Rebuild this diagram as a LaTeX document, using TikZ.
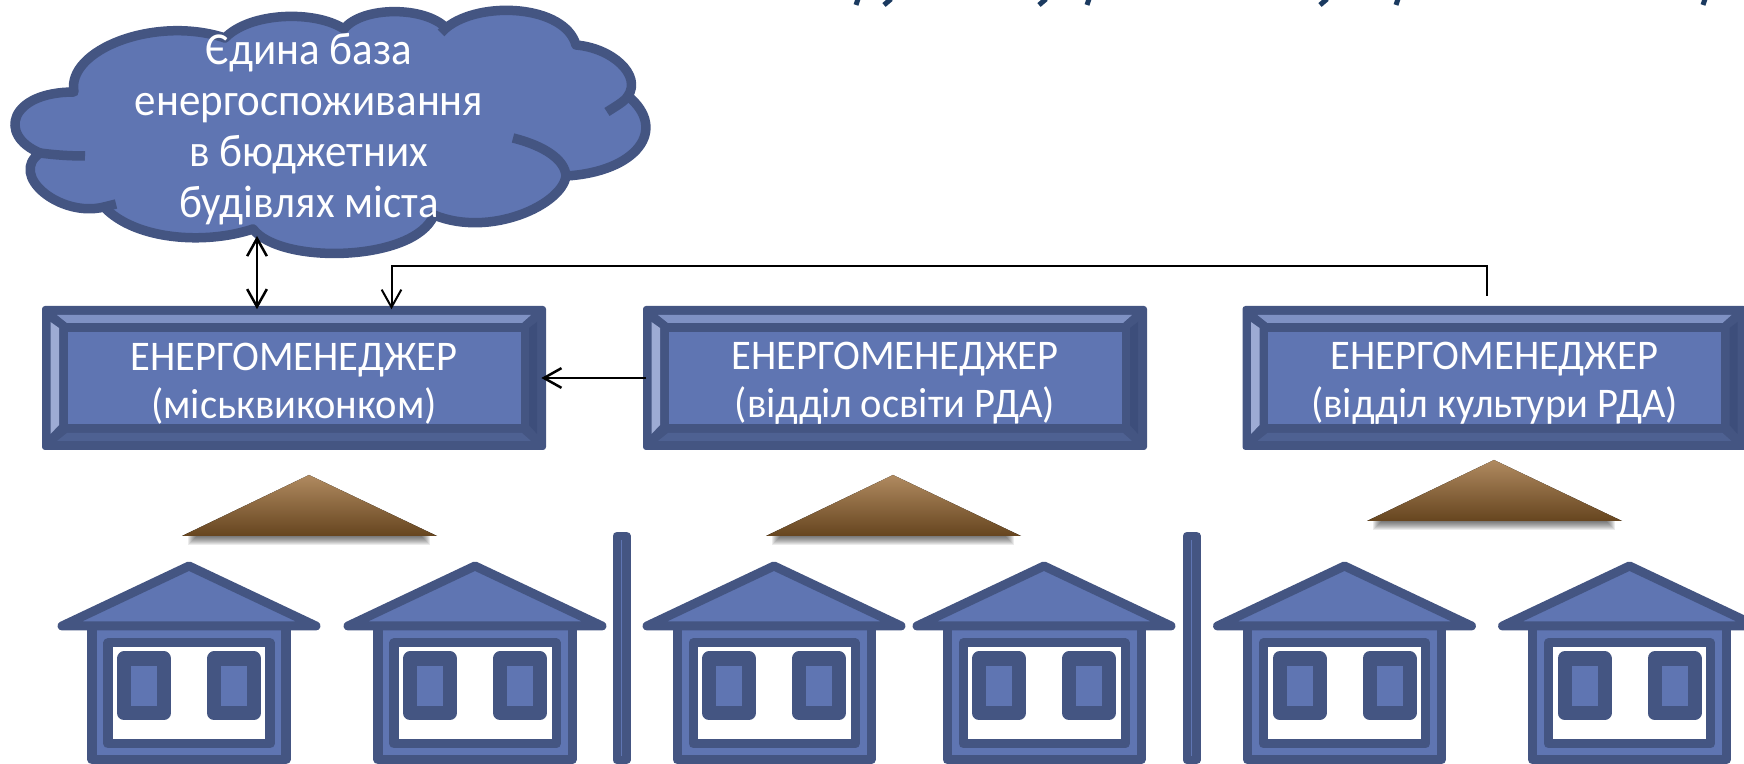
\documentclass[tikz,border=0pt]{standalone}
\usepackage{fontspec}
\usepackage{xcolor}
\usepackage{tikz}
\usetikzlibrary{calc,arrows.meta}
\setmainfont{Carlito}
\newfontfamily\boxfont[FakeStretch=0.96]{Carlito}
\newfontfamily\cloudfont[FakeStretch=0.94]{Carlito}
\definecolor{edge}{HTML}{445582}
\definecolor{face}{HTML}{5F75B2}
\definecolor{bevtop}{HTML}{7F91C3}
\definecolor{bevleft}{HTML}{9DABD4}
\definecolor{bevbot}{HTML}{4E6192}
\definecolor{bevright}{HTML}{3D4E7B}
\definecolor{brownhi}{HTML}{B08A60}
\definecolor{brownmid}{HTML}{8A6239}
\definecolor{browndk}{HTML}{66451F}
\definecolor{titleink}{HTML}{1B3A60}
\tikzset{
  base/.style={draw=edge, fill=face, line width=0.09cm, line cap=round, line join=round},
  cloudline/.style={draw=edge, line width=0.095cm, line cap=butt, line join=round},
  shut/.style={draw=edge, fill=face, line width=0.14cm, line join=round},
  pane/.style={draw=edge, fill=white, line width=0.09cm, line join=round},
  lab/.style={text=white, align=center, font=\boxfont\fontsize{12}{13.7}\selectfont},
  boxnode/.style={minimum width=5.04cm, minimum height=1.44cm, inner sep=0pt},
  link/.style={draw=black, line width=0.025cm, -{Straight Barb[length=5pt,width=5.6pt]}},
  linkthin/.style={draw=black, line width=0.02cm, -{Straight Barb[length=5pt,width=5.6pt]}},
}
\begin{document}
\begin{tikzpicture}[x=0.01cm,y=-0.01cm]
  \clip (0,0) rectangle (1744,764);

  % clipped heading
  \foreach \ta/\tb in {858/856,891/884,1046/1039,1089/1087,1327/1320,1398/1396,1705/1703}
    \draw[titleink, line width=0.05cm] (\ta,-1) -- (\tb,5);

  % cloud
  \draw[base, line width=0.095cm] (74,92) .. controls (66,50) and (155,15) .. (225,38)
    .. controls (250,12) and (315,10) .. (344,29)
    .. controls (362,6) and (425,6) .. (446,28)
    .. controls (480,0) and (565,5) .. (576,45)
    .. controls (612,48) and (642,75) .. (628,96)
    .. controls (669,130) and (636,172) .. (566,176)
    .. controls (562,205) and (490,238) .. (434,215)
    .. controls (415,262) and (280,265) .. (253,229)
    .. controls (205,245) and (135,240) .. (104,207)
    .. controls (60,218) and (8,175) .. (40,153)
    .. controls (-3,135) and (10,92) .. (74,92) -- cycle;
  \draw[cloudline] (446,28) -- (441,33);
  \draw[cloudline] (628,96) .. controls (624,102) and (616,106) .. (607,112);
  \draw[cloudline] (566,176) .. controls (565,160) and (545,146) .. (513,138);
  \draw[cloudline] (104,207) -- (116,204);
  \draw[cloudline] (40,153) .. controls (55,155) and (70,156) .. (85,156);
  \node[lab, font=\cloudfont\fontsize{13}{14.5}\selectfont] (cloud) at (309,129) {Єдина база\\енергоспоживання\\в бюджетних\\будівлях міста};
  \coordinate (cloudtip) at (257,236);

  % manager boxes
  \foreach \bname/\bx/\btext in {mv/42/{(міськвиконком)},osvita/643/{(відділ освіти РДА)},kult/1242.5/{(відділ культури РДА)}}{
    \begin{scope}[shift={(\bx,0)}]
      \fill[edge, rounded corners=0.03cm] (0,306) rectangle (504,450);
      \fill[bevtop] (15,315) -- (489,315) -- (480,323) -- (25,323) -- cycle;
      \fill[bevleft] (8.5,322) -- (17,328) -- (17,425) -- (8.5,434) -- cycle;
      \fill[bevright] (495,322) -- (487,328) -- (487,425) -- (495,434) -- cycle;
      \fill[bevbot] (15,441) -- (489,441) -- (480,433) -- (25,433) -- cycle;
      \fill[face] (25.5,332) rectangle (478.5,424);
      \node[boxnode] (\bname) at (252,378) {};
      \node[lab] (\bname lab) at (252,383.5) {ЕНЕРГОМЕНЕДЖЕР\\\btext};
    \end{scope}
  }

  \coordinate (bendtop) at (391.5,266);
  \coordinate (kulttap) at (1487,296);
  \draw[link, {Straight Barb[length=5pt,width=5.6pt]}-{Straight Barb[length=5pt,width=5.6pt]}, shorten >=-0.04cm] (cloudtip) -- (cloudtip |- mv.north);
  \draw[linkthin, shorten >=-0.04cm] (kulttap) |- (bendtop) -- (bendtop |- mv.north);
  \draw[link, shorten >=-0.055cm, shorten <=-0.04cm] (osvita.west) -- (mv.east);

  % brown roofs
  \foreach \tx/\ty in {309/475,893/475,1494/460}{
    \begin{scope}[shift={(\tx,\ty)}]
      \foreach \sd in {1,...,9}
        \fill[black, opacity=0.08] (-122+\sd,61) rectangle (122-\sd,71-\sd);
      \fill[top color=brownhi, middle color=brownmid, bottom color=browndk] (0,0) -- (128,61) -- (-127,61) -- cycle;
    \end{scope}
  }

  % houses
  \foreach \hx in {189,475,774,1044,1344.5,1629.5}{
    \begin{scope}[shift={(\hx,0)}]
      \draw[base] (-97,626) -- (-97,760) -- (97,760) -- (97,626);
      \draw[base] (0,566) -- (127,626) -- (-127,626) -- cycle;
      \draw[pane] (-81,643) rectangle (81,744);
      \draw[shut] (-65,658.5) rectangle (-25,713);
      \draw[shut] (25,658.5) rectangle (65,713);
    \end{scope}
  }

  % separators
  \foreach \sx in {621.7,1191.8}
    \draw[base, line width=0.085cm] (\sx-4.9,536) rectangle (\sx+4.9,760);
\end{tikzpicture}
\end{document}
